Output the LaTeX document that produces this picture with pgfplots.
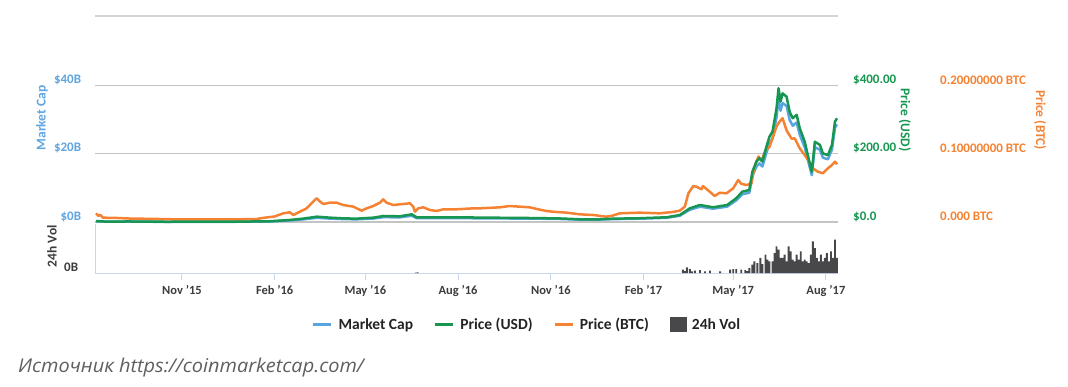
\documentclass[border=0pt]{standalone}
\usepackage{pgfplots}
\pgfplotsset{compat=1.18}
\usepackage{fontspec}
\setmainfont{Carlito}
\newfontfamily\legfont{Carlito Bold}
\newfontfamily\capfont[FakeStretch=1.05]{Open Sans}
\definecolor{mcblue}{RGB}{88,164,222}
\definecolor{labblue}{RGB}{95,165,225}
\definecolor{usdgreen}{RGB}{22,150,80}
\definecolor{btcorange}{RGB}{245,130,50}
\definecolor{volgray}{RGB}{72,72,74}
\definecolor{gridgray}{RGB}{196,196,196}
\definecolor{axisblue}{RGB}{204,214,235}
\definecolor{ticktext}{RGB}{60,60,60}
\definecolor{legtext}{RGB}{35,35,35}
\definecolor{captext}{RGB}{95,95,95}
\definecolor{topline}{RGB}{212,212,212}

\pgfplotsset{
  base/.style={
    scale only axis, width=742.7pt, xmin=0, xmax=737, clip=false,
    /pgf/number format/assume math mode=true,
    major tick length=0pt,
    yticklabel style={font=\bfseries\fontsize{13}{13}\selectfont, inner sep=0pt, yshift=5.5pt},
    ylabel style={font=\bfseries\fontsize{13.5}{13.5}\selectfont, anchor=center},
  },
  mainax/.style={base, at={(95.3pt,164pt)}, anchor=south west, height=136.5pt,
    xtick=\empty, axis x line=none},
  dline/.style={line width=2.5pt, line join=round},
}

\begin{document}
\begin{tikzpicture}
\useasboundingbox (0,0) rectangle (1068pt,386pt);
\draw[draw=topline, line width=1.8pt] (95pt,370.3pt) -- (838pt,370.3pt);

% Market cap (left axis, with grid)
\begin{axis}[mainax, ymin=0, ymax=40, ytick={0,20,40},
  yticklabels={\$0B,\$20B,\$40B},
  axis y line*=left, y axis line style={draw=none},
  ymajorgrids, grid style={draw=gridgray, line width=1.3pt},
  yticklabel style={text=labblue, anchor=east, xshift=-14pt},
  ylabel={Market Cap}, ylabel style={text=labblue, at={(axis description cs:-0.0718,0.762)}}]
\addplot[mcblue, dline] coordinates {
(0.7,0.209)(10,0.094)(34,0.110)(70,0.052)(104,0.068)(140,0.072)(173,0.162)(193,0.46)
(206,0.77)(220,1.23)(233,1.00)(246,0.85)(259,0.78)(276,1.02)(286,1.42)(302,1.35)
(314,1.83)(319,1.12)(332,1.12)(358,1.13)(392,1.06)(431,0.99)(460,0.90)(481,0.68)
(500,0.70)(514,0.85)(540,0.97)(567,1.23)(580,1.83)(590,3.60)
(600,4.48)(613,3.90)(627,4.52)(636,6.33)(642,8.11)(649,8.58)(652,13.47)(656,16.23)
(659,17.17)(662,16.27)(666,20.33)(669,23.03)(672,24.43)(676,30.74)(678,36.18)(680,32.62)
(682,34.87)(686,33.98)(689,29.94)(692,28.21)(696,29.17)(699,25.58)(704,21.88)(707,18.27)
(711,13.72)(714,21.95)(719,21.15)(722,18.83)(727,18.38)(731,21.22)(734,27.64)(736,28.61)
};
\end{axis}

% Price (BTC)
\begin{axis}[mainax, ymin=0, ymax=0.2, ytick={0,0.1,0.2},
  yticklabels={0.000 BTC,0.10000000 BTC,0.20000000 BTC},
  axis y line*=right, y axis line style={draw=none},
  yticklabel style={text=btcorange, anchor=west, xshift=102pt},
  ylabel={Price (BTC)}, ylabel style={text=btcorange, rotate=180, at={(axis description cs:1.272,0.747)}}]
\addplot[btcorange, dline] coordinates {
(0.7,0.0127)(3,0.0090)(5,0.0105)(7.6,0.0063)(20,0.0060)(34,0.0051)(60,0.0045)(84,0.0037)
(110,0.0040)(134,0.0037)(160,0.0044)(166,0.0059)(178,0.0081)(186.5,0.0127)(193,0.0142)
(196.5,0.0103)(203,0.0151)(209.7,0.0200)(214.7,0.0274)(219.6,0.0347)(223,0.0298)
(226.5,0.0264)(232.8,0.0283)(239.5,0.0283)(246,0.0249)(256,0.0225)(264.3,0.0166)
(269.2,0.0200)(275.8,0.0234)(282.4,0.0283)(285.8,0.0332)(289,0.0283)(295.6,0.0249)
(305.6,0.0264)(312.2,0.0274)(315.5,0.0225)(317.2,0.0151)(320.4,0.0200)(325.4,0.0215)
(332,0.0176)(338.7,0.0161)(345.2,0.0186)(358.5,0.0186)(375,0.0200)(381.6,0.0200)
(401.5,0.0215)(411,0.0234)(421,0.0225)(431,0.0215)(439.5,0.0186)(447.8,0.0161)
(454,0.0151)(467.7,0.0137)(480.9,0.0112)(494,0.0103)(507,0.0078)(512,0.0088)
(520.5,0.0127)(540,0.0137)(560,0.0127)(573,0.0147)(580,0.0166)(585,0.0225)
(588.5,0.0420)(593.4,0.0527)(596.6,0.0517)(601.5,0.0479)(603,0.0527)(609.7,0.0444)
(614.6,0.0381)(619.7,0.0429)(626.4,0.0420)(633,0.0494)(638,0.0615)(641,0.0560)
(646,0.0542)(651,0.0560)(654,0.0800)(658,0.0960)(661,0.0900)
(665,0.1050)(669,0.1100)(672,0.1226)(676,0.1400)(679,0.1470)(682,0.1520)(686,0.1340)
(691,0.1220)(694,0.1226)(699,0.1080)(706,0.0938)(709,0.0860)(712,0.0787)(717,0.0737)
(722,0.0714)(727,0.0787)(731,0.0835)(734,0.0884)(736,0.0845)
};
\end{axis}

% Price (USD)
\begin{axis}[mainax, ymin=0, ymax=400, ytick={0,200,400},
  yticklabels={\$0.0,\$200.00,\$400.00},
  axis y line*=right, y axis line style={draw=none},
  yticklabel style={text=usdgreen, anchor=west, xshift=15pt},
  ylabel={Price (USD)}, ylabel style={text=usdgreen, rotate=180, at={(axis description cs:1.090,0.747)}}]
\addplot[usdgreen, dline] coordinates {
(0.7,2.9)(10,1.3)(34,1.5)(70,0.7)(104,0.9)(140,0.95)(173,2.1)(193,5.9)(206,9.8)
(220,15.6)(233,12.7)(246,10.7)(259,9.8)(276,12.7)(286,17.6)(302,16.6)(314,22.5)
(319,13.7)(332,13.7)(358,13.7)(392,12.7)(431,11.7)(460,10.5)(481,7.9)(500,8)(514,9.7)
(540,11)(567,13.8)(580,20.5)(590,40.1)(600,49.8)(613,43.1)(627,49.8)(636,69.5)
(642,88.8)(649,93.8)(652,147)(656,177)(659,187)(662,177)(666,221)(669,250)(672,265)
(676,333)(678,392)(680,353)(682,377)(686,367)(689,323)(692,304)(696,314)(699,275)
(704,235)(707,196)(711,147)(714,235)(719,226)(722,201)(727,196)(731,226)(734,294)(736,304)
};
\end{axis}

% 24h volume panel
\begin{axis}[base, at={(95.3pt,113pt)}, anchor=south west, height=49pt,
  ymin=0, ymax=3, ytick={0}, yticklabels={0B},
  axis x line*=bottom, axis y line*=left,
  axis line style={draw=axisblue, line width=1pt, -},
  xtick={86,178,268,360,452,544,633,725},
  xticklabels={Nov '15,Feb '16,May '16,Aug '16,Nov '16,Feb '17,May '17,Aug '17},
  x tick style={draw=axisblue, line width=1pt}, y tick style={draw=none},
  x tick label style={font=\bfseries\fontsize{12.5}{12.5}\selectfont, text=ticktext, anchor=north, inner sep=0pt, yshift=-12pt},
  major x tick style={/pgfplots/major tick length=7pt}, tick align=outside,
  yticklabel style={text=ticktext, anchor=east, xshift=-17pt},
  ylabel={24h Vol}, ylabel style={text=ticktext, at={(axis description cs:-0.0583,0.55)}},
  legend columns=4,
  legend style={draw=none, fill=none, inner sep=0pt, outer sep=0pt,
    at={(axis description cs:0.2918,-1.055)}, anchor=west,
    font=\legfont\fontsize{15.5}{15.5}\selectfont,
    nodes={inner sep=0pt, font=\legfont\fontsize{15.5}{15.5}\selectfont, text=legtext},
    /tikz/every odd column/.append style={column sep=6pt},
    /tikz/every even column/.append style={column sep=20.7pt}},
  legend image code/.code={\draw[#1, line width=2.6pt] (0pt,0pt) -- (18pt,0pt);}]
\addlegendimage{mcblue}
\addlegendimage{usdgreen}
\addlegendimage{btcorange}
\addlegendimage{legend image code/.code={\fill[volgray] (0pt,-7pt) rectangle (16pt,7pt);}}
\legend{Market Cap,Price (USD),Price (BTC),24h Vol}
\addplot[ybar, bar width=1.9pt, fill=volgray, draw=none, forget plot] coordinates {
(318,0.03)(320,0.04)
(583,0.20)(585,0.12)(587,0.35)(590,0.24)(592,0.10)(595,0.14)(600,0.18)(605,0.10)(610,0.14)
(620,0.10)(630,0.20)(633,0.23)(636,0.24)(641,0.20)(645,0.18)(647,0.12)(649,0.31)(652,0.51)
(654,0.71)(657,0.61)(660,0.92)(662,0.55)(665,1.12)(667,0.82)(669,0.71)(672,0.71)(674,1.22)
(676,1.63)(678,1.43)(680,0.92)(682,0.92)(684,1.12)(686,0.71)(688,1.63)(690,1.33)(692,0.82)
(694,0.71)(696,1.12)(698,0.82)(700,1.33)(702,0.71)(704,0.82)(706,0.71)(708,0.61)(710,1.12)
(712,1.94)(714,1.53)(716,0.92)(718,0.71)(720,1.12)(722,0.71)(724,0.92)(726,1.22)(728,0.71)
(730,1.33)(732,0.92)(734,2.04)(736,0.92)
};
\end{axis}

\node[anchor=west, inner sep=0pt, text=captext] at (18pt,18.3pt)
  {\capfont\itshape\fontsize{19}{19}\selectfont Источник https://coinmarketcap.com/};
\end{tikzpicture}
\end{document}
